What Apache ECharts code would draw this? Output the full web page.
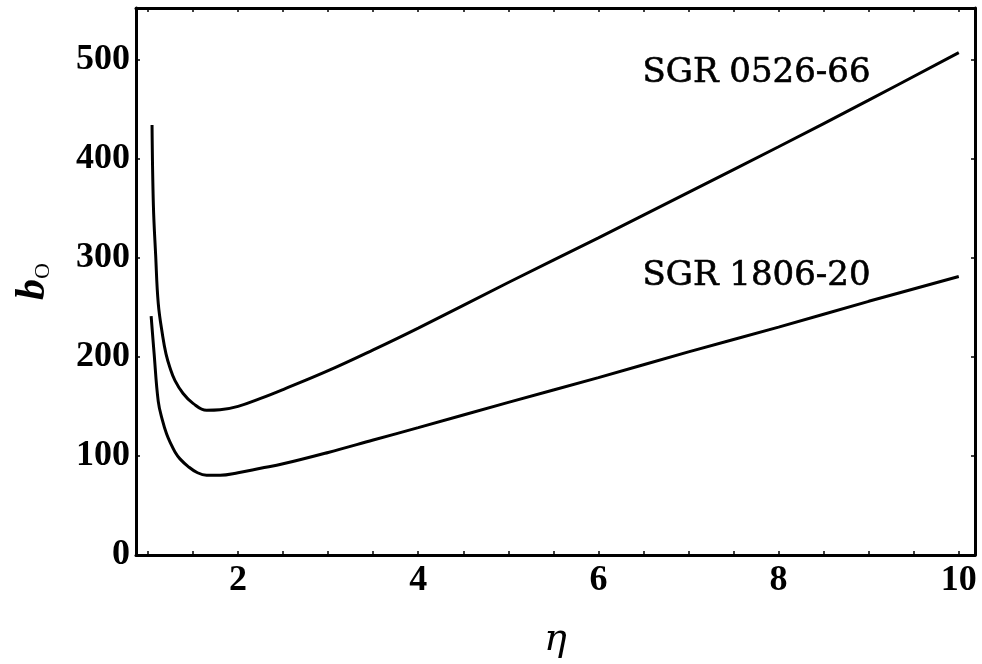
<!DOCTYPE html>
<html>
<head>
<meta charset="utf-8">
<script src="https://cdn.jsdelivr.net/npm/echarts@6/dist/echarts.min.js"></script>
<style>
  html, body { margin: 0; padding: 0; background: #fff; }
  #chart { width: 982px; height: 664px; }
</style>
</head>
<body>
<div id="chart"></div>
<script>
    // values
    const etaUpper = [1.045, 1.06, 1.085, 1.114, 1.163, 1.2, 1.244, 1.3, 1.39, 1.5, 1.65, 1.8, 2, 2.25, 2.5, 3, 3.5, 4, 5, 6, 7, 8, 9, 10];
    const sgr0526 = [434, 353, 303, 254, 221, 203, 189, 176, 163, 153, 146, 146.5, 150, 158, 167, 186, 207, 229, 275, 320, 366, 412, 459, 507];

    const etaLower = [1.035, 1.067, 1.114, 1.16, 1.207, 1.25, 1.3, 1.355, 1.45, 1.55, 1.65, 1.8, 2, 2.25, 2.5, 3, 3.5, 4, 5, 6, 7, 8, 9, 10];
    const sgr1806 = [241, 204.5, 155, 136, 122, 113, 104, 97, 89, 83, 80.5, 80.5, 83, 87.5, 92, 103.5, 116, 128.5, 154, 179, 205, 230, 256, 281];

    const xTicks = [2, 4, 6, 8, 10];
    const xMinorTicks = [1, 1.5, 2, 2.5, 3, 3.5, 4, 4.5, 5, 5.5, 6, 6.5, 7, 7.5, 8, 8.5, 9, 9.5, 10];
    const yTicks = [0, 100, 200, 300, 400, 500];

    const labelNames = ['SGR 0526-66', 'SGR 1806-20'];
    const labelEta = [7.755, 7.755];
    const labelB = [486, 281];

    const pair = (xs, ys) => xs.map((x, i) => [x, ys[i]]);

    const chart = echarts.init(document.getElementById('chart'));

    const tickFont = { fontFamily: 'Liberation Serif', fontWeight: 'bold', fontSize: 36, color: '#000' };
    const frameLine = { show: true, onZero: false, lineStyle: { color: '#000', width: 3 } };
    const sgrLabel = { show: true, position: 'inside', fontFamily: 'DejaVu Serif', fontSize: 34, color: '#000', textBorderColor: '#000', textBorderWidth: 0.6 };

    const xBase = {
        type: 'value',
        min: 0.867,
        max: 10.18,
        axisLine: frameLine,
        splitLine: { show: false },
        axisTick: { show: true, inside: true, length: 4, customValues: xMinorTicks, lineStyle: { color: '#000', width: 1.5 } },
    };
    const yBase = {
        type: 'value',
        min: 0,
        max: 552,
        axisLine: frameLine,
        splitLine: { show: false },
        axisTick: { show: true, inside: true, length: 4, customValues: yTicks, lineStyle: { color: '#000', width: 1.5 } },
    };

    const option = {
        animation: false,
        backgroundColor: '#fff',
        grid: { left: 136, right: 7, top: 8, bottom: 97, containLabel: false },
        xAxis: [
            Object.assign({}, xBase, {
                position: 'bottom',
                name: 'η',
                nameLocation: 'middle',
                nameGap: 66,
                nameTextStyle: { fontFamily: 'DejaVu Serif', fontStyle: 'italic', fontSize: 38, color: '#000' },
                axisLabel: Object.assign({ customValues: xTicks, margin: 8 }, tickFont),
            }),
            Object.assign({}, xBase, { position: 'top', axisLabel: { show: false } }),
        ],
        yAxis: [
            Object.assign({}, yBase, {
                position: 'left',
                name: '{b|b}{s|O}',
                nameLocation: 'middle',
                nameGap: 82,
                nameRotate: 90,
                nameTextStyle: {
                    rich: {
                        b: { fontFamily: 'Liberation Serif', fontStyle: 'italic', fontWeight: 'bold', fontSize: 42, color: '#000' },
                        s: { fontFamily: 'Liberation Serif', fontSize: 22, color: '#000', verticalAlign: 'bottom', padding: [14, 0, 0, 0] }
                    }
                },
                axisLabel: Object.assign({ customValues: yTicks, margin: 6 }, tickFont),
            }),
            Object.assign({}, yBase, { position: 'right', axisLabel: { show: false } }),
        ],
        series: [
            {
                type: 'line',
                name: labelNames[0],
                data: pair(etaUpper, sgr0526),
                smooth: 0.4,
                showSymbol: false,
                lineStyle: { color: '#000', width: 3 },
                markPoint: {
                    symbol: 'circle',
                    symbolSize: 0,
                    label: Object.assign({ formatter: labelNames[0] }, sgrLabel),
                    data: [{ coord: [labelEta[0], labelB[0]] }]
                }
            },
            {
                type: 'line',
                name: labelNames[1],
                data: pair(etaLower, sgr1806),
                smooth: 0.4,
                showSymbol: false,
                lineStyle: { color: '#000', width: 3 },
                markPoint: {
                    symbol: 'circle',
                    symbolSize: 0,
                    label: Object.assign({ formatter: labelNames[1] }, sgrLabel),
                    data: [{ coord: [labelEta[1], labelB[1]] }]
                }
            }
        ]
    };

    chart.setOption(option);
</script>
</body>
</html>
